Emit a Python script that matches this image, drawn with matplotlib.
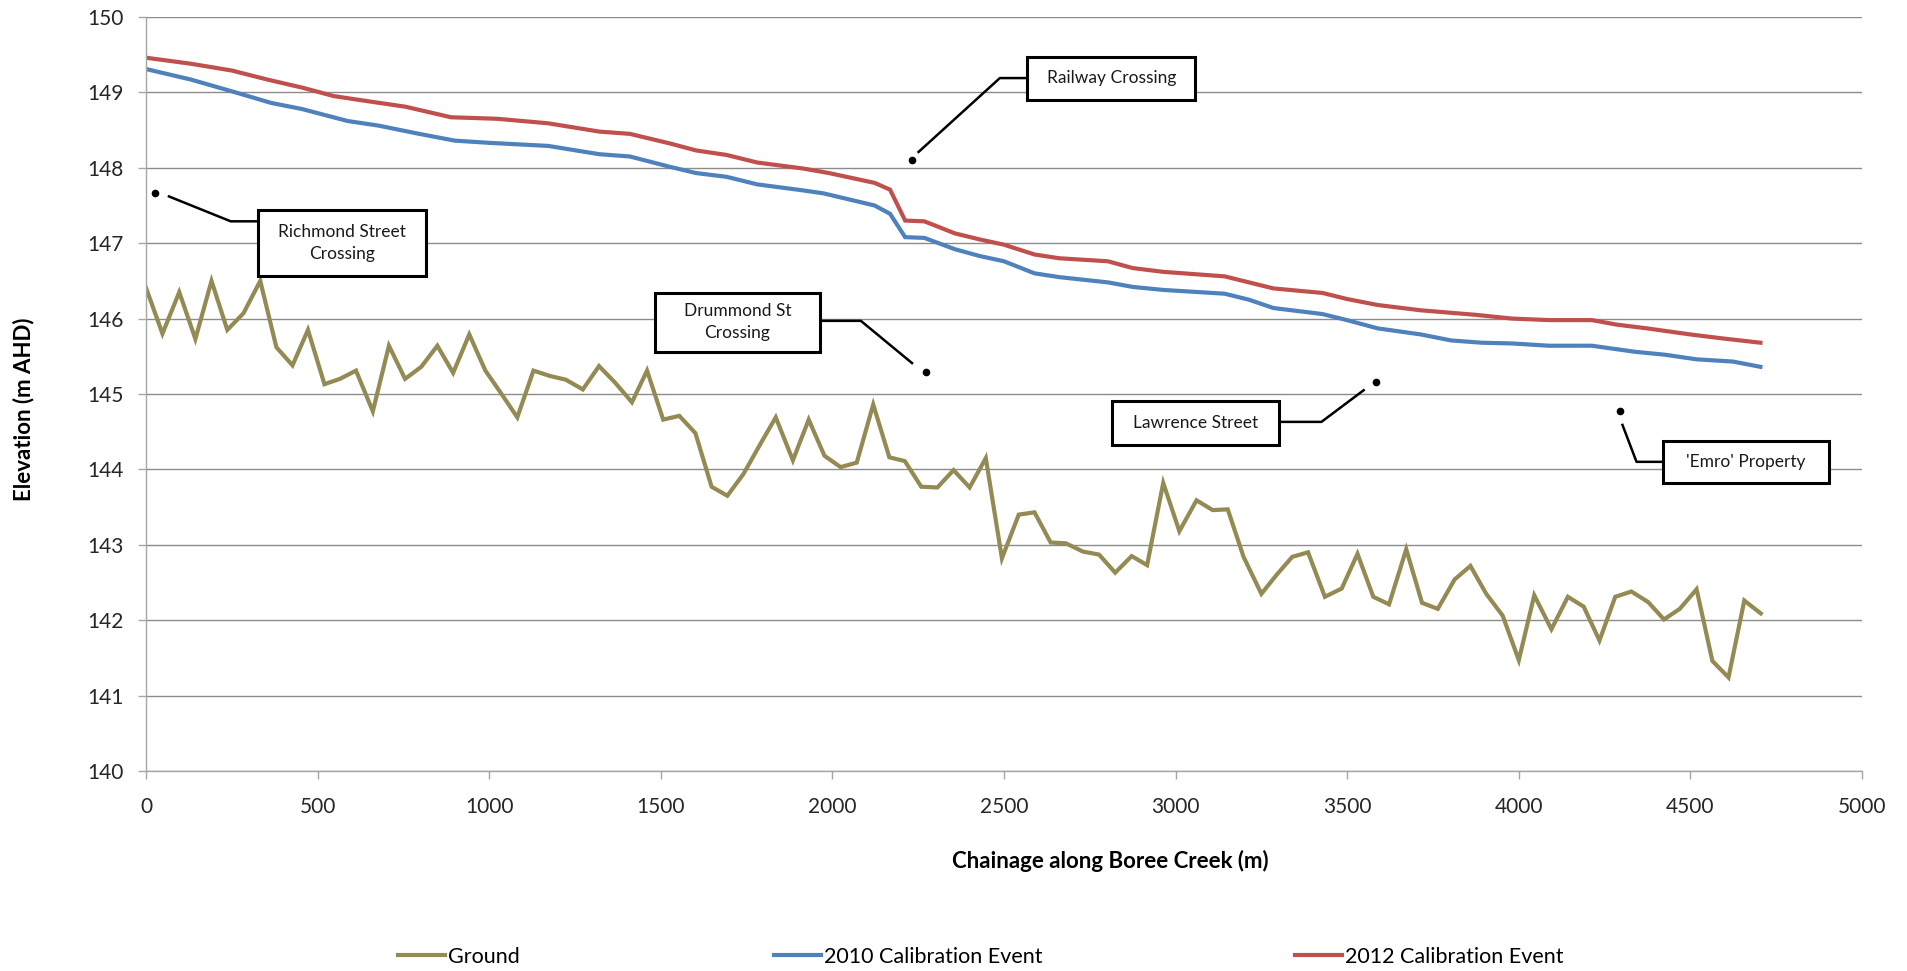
import matplotlib.pyplot as plt
from matplotlib.lines import Line2D
from matplotlib.patches import Rectangle

plt.rcParams['font.family'] = ['Lato', 'DejaVu Sans']

# Long section along the creek: chainage (m) vs elevation (m AHD)
ground_x = [0, 48, 97, 144, 191, 237, 284, 333, 380, 427,
            472, 520, 565, 612, 661, 708, 755, 802, 849, 895,
            942, 989, 1036, 1082, 1129, 1176, 1223, 1273, 1320, 1367,
            1416, 1460, 1507, 1554, 1601, 1648, 1694, 1741, 1788, 1835,
            1885, 1931, 1977, 2024, 2071, 2119, 2166, 2211, 2259, 2306,
            2353, 2400, 2447, 2494, 2543, 2589, 2636, 2680, 2730, 2777,
            2824, 2872, 2917, 2964, 3011, 3061, 3108, 3152, 3198, 3250,
            3294, 3340, 3386, 3435, 3484, 3530, 3576, 3622, 3672, 3718,
            3764, 3813, 3859, 3905, 3953, 4000, 4045, 4095, 4143, 4189,
            4235, 4281, 4328, 4377, 4423, 4469, 4518, 4564, 4611, 4657,
            4705]
ground_z = [146.41, 145.80, 146.35, 145.73, 146.50, 145.85, 146.07, 146.50, 145.62, 145.38,
            145.85, 145.13, 145.20, 145.31, 144.77, 145.64, 145.20, 145.36, 145.64, 145.28,
            145.79, 145.31, 145.00, 144.69, 145.31, 145.24, 145.19, 145.06, 145.37, 145.15,
            144.89, 145.31, 144.66, 144.71, 144.48, 143.77, 143.65, 143.94, 144.32, 144.69,
            144.12, 144.66, 144.18, 144.03, 144.09, 144.86, 144.16, 144.11, 143.77, 143.76,
            143.99, 143.76, 144.15, 142.82, 143.40, 143.43, 143.03, 143.02, 142.91, 142.87,
            142.63, 142.85, 142.73, 143.82, 143.18, 143.59, 143.46, 143.47, 142.84, 142.35,
            142.60, 142.84, 142.90, 142.31, 142.42, 142.88, 142.31, 142.21, 142.94, 142.23,
            142.15, 142.54, 142.72, 142.35, 142.06, 141.47, 142.33, 141.88, 142.31, 142.18,
            141.73, 142.31, 142.38, 142.24, 142.01, 142.15, 142.41, 141.46, 141.24, 142.26,
            142.09]

ev2010_x = [0, 131, 261, 365, 454, 588, 677, 796, 900, 1004,
            1172, 1321, 1410, 1529, 1603, 1692, 1781, 1915, 1975, 2123,
            2168, 2212, 2268, 2357, 2429, 2500, 2589, 2661, 2803, 2875,
            2964, 3143, 3214, 3285, 3428, 3499, 3589, 3714, 3803, 3892,
            3981, 4088, 4213, 4338, 4427, 4517, 4624, 4704]
ev2010_z = [149.31, 149.17, 149.00, 148.86, 148.78, 148.62, 148.56, 148.45, 148.36, 148.33,
            148.29, 148.18, 148.15, 148.01, 147.93, 147.88, 147.78, 147.70, 147.66, 147.50,
            147.39, 147.08, 147.07, 146.92, 146.83, 146.76, 146.60, 146.55, 146.48, 146.42,
            146.38, 146.33, 146.25, 146.14, 146.06, 145.98, 145.87, 145.79, 145.71, 145.68,
            145.67, 145.64, 145.64, 145.56, 145.52, 145.46, 145.43, 145.36]

ev2012_x = [0, 131, 250, 354, 458, 548, 666, 756, 889, 1023,
            1172, 1321, 1410, 1529, 1603, 1692, 1781, 1915, 1990, 2123,
            2168, 2212, 2268, 2357, 2429, 2500, 2589, 2661, 2803, 2875,
            2964, 3143, 3214, 3285, 3428, 3499, 3589, 3714, 3874, 3981,
            4088, 4213, 4285, 4374, 4499, 4588, 4704]
ev2012_z = [149.46, 149.38, 149.29, 149.17, 149.06, 148.95, 148.87, 148.81, 148.67, 148.65,
            148.59, 148.48, 148.45, 148.32, 148.23, 148.17, 148.07, 147.99, 147.93, 147.80,
            147.71, 147.30, 147.29, 147.13, 147.05, 146.98, 146.85, 146.80, 146.76, 146.67,
            146.62, 146.56, 146.48, 146.40, 146.34, 146.26, 146.18, 146.11, 146.05, 146.00,
            145.98, 145.98, 145.92, 145.87, 145.79, 145.74, 145.68]

series_names = ['Ground', '2010 Calibration Event', '2012 Calibration Event']
series_colors = ['#948A54', '#4F81BD', '#C0504D']

# Callouts: label, marker point, leader path, box (x0, y0, x1, y1)
callout_labels = ['Richmond Street\nCrossing', 'Railway Crossing', 'Drummond St\nCrossing',
                  'Lawrence Street', "'Emro' Property"]
callout_points = [(26, 147.67), (2232, 148.10), (2274, 145.29), (3585, 145.16), (4295, 144.78)]
callout_paths = [
    [(67, 147.62), (247, 147.29), (327, 147.29)],
    [(2251, 148.21), (2488, 149.19), (2568, 149.19)],
    [(2232, 145.41), (2083, 145.97), (1964, 145.97)],
    [(3548, 145.05), (3425, 144.63), (3301, 144.63)],
    [(4302, 144.59), (4343, 144.10), (4421, 144.10)],
]
callout_boxes = [(327, 146.57, 815, 147.44), (2568, 148.90, 3057, 149.47),
                 (1483, 145.56, 1964, 146.34), (2816, 144.33, 3301, 144.91),
                 (4421, 143.82, 4903, 144.37)]

fig = plt.figure(figsize=(19.08, 9.71), dpi=100)
ax = fig.add_axes([0.0765, 0.206, 0.8994, 0.7765])

handles = []
for xs, zs, name, col in zip([ground_x, ev2010_x, ev2012_x], [ground_z, ev2010_z, ev2012_z],
                             series_names, series_colors):
    line, = ax.plot(xs, zs, color=col, lw=3.0, label=name, solid_joinstyle='miter')
    handles.append(line)

ax.set_xlim(0, 5000)
ax.set_ylim(140, 150)
ax.set_xticks(range(0, 5001, 500))
ax.set_yticks(range(140, 151))
ax.grid(axis='y', color='#8C8C8C', lw=1.0)
ax.set_axisbelow(True)
for side in ['top', 'right']:
    ax.spines[side].set_visible(False)
for side in ['left', 'bottom']:
    ax.spines[side].set_color('#A6A6A6')
    ax.spines[side].set_linewidth(1.0)
ax.tick_params(axis='both', direction='out', length=6, width=1.0, color='#A6A6A6',
               labelsize=15, labelcolor='#262626')
ax.tick_params(axis='x', pad=13)
ax.tick_params(axis='y', pad=10)

ax.set_xlabel('Chainage along Boree Creek (m)', fontsize=16, fontweight='bold', va='center')
ax.xaxis.set_label_coords(0.562, -0.119)
ax.set_ylabel('Elevation (m AHD)', fontsize=16, fontweight='bold', va='center')
ax.yaxis.set_label_coords(-0.0711, 0.48)

for label, pt, path, box in zip(callout_labels, callout_points, callout_paths, callout_boxes):
    ax.plot(*pt, marker='o', ms=4.5, color='black', clip_on=False, zorder=5)
    px, py = zip(*path)
    ax.plot(px, py, color='black', lw=1.8, clip_on=False, zorder=5)
    x0, y0, x1, y1 = box
    ax.add_patch(Rectangle((x0, y0), x1 - x0, y1 - y0, facecolor='white',
                           edgecolor='black', lw=2.2, zorder=6, clip_on=False))
    ax.text((x0 + x1) / 2, (y0 + y1) / 2, label, ha='center', va='center',
            fontsize=12.5, linespacing=1.45, color='#1a1a1a', zorder=7)

# one legend entry per slot along the bottom
legend_left = [398, 774, 1295]
for h, name, xpx in zip(handles, series_names, legend_left):
    key = Line2D([], [], color=h.get_color(), lw=3.0)
    fig.legend([key], [name], loc='center left', bbox_to_anchor=(xpx / 1908, 1 - 957 / 971),
               frameon=False, fontsize=15.5, handlelength=2.2, handletextpad=0.1,
               borderpad=0, borderaxespad=0)

fig.savefig('out.png', dpi=100)
